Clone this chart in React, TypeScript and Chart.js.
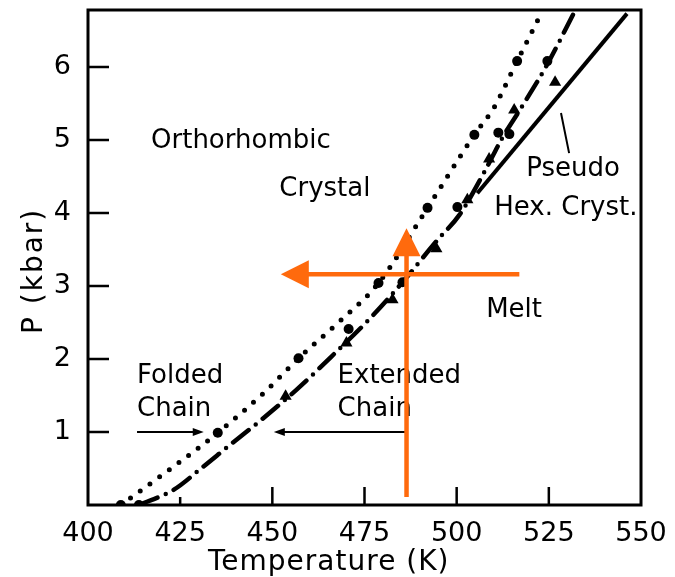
import React, { useEffect, useRef } from 'react';
import { Chart, registerables } from 'chart.js';
Chart.register(...registerables);

const FONT = '"DejaVu Sans", sans-serif';

// Axis ticks
const xTickValues = [400, 425, 450, 475, 500, 525, 550];
const yTickValues = [1, 2, 3, 4, 5, 6];

// Dotted boundary (folded chain / orthorhombic)
const dottedT = [408.9, 421.7, 435.2, 448.2, 457.1, 467.7, 478.8, 492.1, 504.8, 510.2, 516.4, 522.7];
const dottedP = [0, 0.47, 0.99, 1.56, 2.01, 2.49, 3.04, 4.07, 5.07, 5.45, 6.08, 6.71];
// Dotted boundary measured points (circles)
const dottedPtsT = [408.9, 435.2, 457.1, 478.8, 492.1, 504.8, 516.4];
const dottedPtsP = [0, 0.99, 2.01, 3.04, 4.07, 5.07, 6.08];

// Dash-dot boundary (extended chain)
const dashT = [413.8, 423.3, 430.9, 438.2, 446.6, 456.6, 467.4, 476.4, 485.3, 494.8, 500.7, 507.5, 512.4, 517.5, 524.3, 531.9];
const dashP = [0, 0.21, 0.51, 0.81, 1.15, 1.58, 2.10, 2.55, 3.05, 3.63, 3.97, 4.56, 5.03, 5.44, 6.01, 6.75];
// Dash-dot measured points (circles)
const dashPtsT = [413.8, 470.7, 485.3, 500.2, 511.3, 514.3, 524.6];
const dashPtsP = [0, 2.41, 3.05, 4.08, 5.10, 5.08, 6.08];
// Triangle points
const triT = [453.6, 470.1, 482.6, 494.5, 502.9, 508.8, 515.6, 526.7];
const triP = [1.49, 2.22, 2.81, 3.51, 4.18, 4.74, 5.41, 5.79];

// Solid boundary (pseudo hexagonal crystal / melt)
const solidT = [505.6, 546.2];
const solidP = [4.27, 6.73];

// Region labels (text, T, P) — left aligned, vertically centred
const labelText = ['Orthorhombic', 'Crystal', 'Pseudo', 'Hex. Cryst.', 'Melt', 'Folded', 'Chain', 'Extended', 'Chain'];
const labelT = [417.1, 451.9, 518.9, 510.2, 508.0, 413.3, 413.3, 467.7, 467.7];
const labelP = [4.98, 4.33, 4.60, 4.06, 2.67, 1.77, 1.31, 1.76, 1.31];

// Black arrows: [fromT, toT] at P
const foldedArrowT = [413.3, 431.4];
const extendedArrowT = [486.4, 450.4];
const arrowP = 1.0;
// Pointer line from "Pseudo" to the solid line
const pointerT = [528.3, 530.5];
const pointerP = [5.37, 4.82];

// Orange overlay arrows
const orangeVertT = 486.4;
const orangeVertP = [0.11, 3.79];
const orangeHorzP = 3.16;
const orangeHorzT = [517.0, 452.3];

const zip = (a: number[], b: number[]) => a.map((v, i) => ({ x: v, y: b[i] }));

function arrowHead(ctx: CanvasRenderingContext2D, tx: number, ty: number, dx: number, dy: number, len: number, half: number) {
  const bx = tx - dx * len;
  const by = ty - dy * len;
  ctx.beginPath();
  ctx.moveTo(tx, ty);
  ctx.lineTo(bx - dy * half, by + dx * half);
  ctx.lineTo(bx + dy * half, by - dx * half);
  ctx.closePath();
  ctx.fill();
}

const overlay = {
  id: 'overlay',
  afterDraw(chart: any) {
    const { ctx, chartArea: a, scales } = chart;
    const xs = scales.x;
    const ys = scales.y;
    const X = (v: number) => xs.getPixelForValue(v);
    const Y = (v: number) => ys.getPixelForValue(v);
    ctx.save();
    // frame
    ctx.strokeStyle = '#000';
    ctx.lineWidth = 3;
    ctx.strokeRect(a.left, a.top, a.right - a.left, a.bottom - a.top);
    // inward tick marks
    ctx.lineWidth = 2.5;
    ctx.beginPath();
    xTickValues.forEach((v, i) => {
      if (i === 0 || i === xTickValues.length - 1) return;
      const px = X(v);
      ctx.moveTo(px, a.bottom);
      ctx.lineTo(px, a.bottom - (i === 1 ? 8 : 18));
    });
    yTickValues.forEach((v) => {
      const py = Y(v);
      ctx.moveTo(a.left, py);
      ctx.lineTo(a.left + 21, py);
    });
    ctx.stroke();

    // region labels
    ctx.fillStyle = '#000';
    ctx.font = `26px ${FONT}`;
    ctx.textAlign = 'left';
    ctx.textBaseline = 'middle';
    labelText.forEach((t, i) => ctx.fillText(t, X(labelT[i]), Y(labelP[i])));

    // black arrows
    ctx.lineWidth = 2;
    ctx.beginPath();
    ctx.moveTo(X(foldedArrowT[0]), Y(arrowP));
    ctx.lineTo(X(foldedArrowT[1]) - 6, Y(arrowP));
    ctx.moveTo(X(extendedArrowT[0]), Y(arrowP));
    ctx.lineTo(X(extendedArrowT[1]) + 6, Y(arrowP));
    ctx.moveTo(X(pointerT[0]), Y(pointerP[0]));
    ctx.lineTo(X(pointerT[1]), Y(pointerP[1]));
    ctx.stroke();
    arrowHead(ctx, X(foldedArrowT[1]), Y(arrowP), 1, 0, 11, 4);
    arrowHead(ctx, X(extendedArrowT[1]), Y(arrowP), -1, 0, 11, 4);

    // axis titles
    ctx.font = `28px ${FONT}`;
    (ctx as any).letterSpacing = '1px';
    ctx.textBaseline = 'alphabetic';
    ctx.textAlign = 'left';
    ctx.fillText('Temperature (K)', 208, 570);
    ctx.save();
    (ctx as any).letterSpacing = '2px';
    ctx.translate(42, 334);
    ctx.rotate(-Math.PI / 2);
    ctx.fillText('P (kbar)', 0, 0);
    ctx.restore();
    (ctx as any).letterSpacing = '0px';

    // orange overlay arrows
    const orange = '#ff6a0d';
    ctx.strokeStyle = orange;
    ctx.fillStyle = orange;
    ctx.lineWidth = 4.5;
    ctx.lineCap = 'butt';
    const vx = X(orangeVertT);
    const vy0 = Y(orangeVertP[0]);
    const vy1 = Y(orangeVertP[1]);
    ctx.beginPath();
    ctx.moveTo(vx, vy0);
    ctx.lineTo(vx, vy1 + 20);
    const hy = Y(orangeHorzP);
    const hx0 = X(orangeHorzT[0]);
    const hx1 = X(orangeHorzT[1]);
    ctx.moveTo(hx0, hy);
    ctx.lineTo(hx1 + 20, hy);
    ctx.stroke();
    arrowHead(ctx, vx, vy1, 0, -1, 28, 14);
    arrowHead(ctx, hx1, hy, -1, 0, 28, 14);
    ctx.restore();
  },
};

export default function App() {
  const ref = useRef<HTMLCanvasElement>(null);
  useEffect(() => {
    document.body.style.margin = '0';
    const chart = new Chart(ref.current as HTMLCanvasElement, {
      type: 'line',
      data: {
        datasets: [
          {
            data: zip(dottedT, dottedP),
            borderColor: '#000',
            borderWidth: 5,
            borderDash: [0, 12],
            borderCapStyle: 'round',
            pointRadius: 0,
            cubicInterpolationMode: 'monotone',
            fill: false,
          },
          {
            data: zip(dashT, dashP),
            borderColor: '#000',
            borderWidth: 4.5,
            borderDash: [20, 9, 0, 9],
            borderCapStyle: 'round',
            pointRadius: 0,
            cubicInterpolationMode: 'monotone',
            fill: false,
          },
          {
            data: zip(solidT, solidP),
            borderColor: '#000',
            borderWidth: 4,
            pointRadius: 0,
            fill: false,
          },
          {
            data: zip(dottedPtsT, dottedPtsP),
            showLine: false,
            pointStyle: 'circle',
            pointRadius: 5,
            pointBackgroundColor: '#000',
            pointBorderColor: '#000',
            pointBorderWidth: 0,
          },
          {
            data: zip(dashPtsT, dashPtsP),
            showLine: false,
            pointStyle: 'circle',
            pointRadius: 5,
            pointBackgroundColor: '#000',
            pointBorderColor: '#000',
            pointBorderWidth: 0,
          },
          {
            data: zip(triT, triP),
            showLine: false,
            pointStyle: 'triangle',
            pointRadius: 7,
            pointBackgroundColor: '#000',
            pointBorderColor: '#000',
            pointBorderWidth: 0,
          },
        ],
      } as any,
      options: {
        animation: false,
        responsive: false,
        events: [],
        layout: { padding: { top: 10, right: 34, left: 0, bottom: 0 } },
        plugins: { legend: { display: false }, tooltip: { enabled: false }, title: { display: false } },
        scales: {
          x: {
            type: 'linear',
            min: 400,
            max: 550,
            grid: { display: false },
            border: { display: false },
            ticks: {
              stepSize: 25,
              autoSkip: false,
              maxRotation: 0,
              padding: 5,
              color: '#000',
              font: { family: FONT, size: 27 },
              callback: (v: any) => String(v),
            },
            afterFit: (s: any) => { s.height = 72; s.paddingLeft = 0; s.paddingRight = 0; },
          },
          y: {
            type: 'linear',
            min: 0,
            max: 6.78,
            grid: { display: false },
            border: { display: false },
            ticks: {
              stepSize: 1,
              includeBounds: false,
              padding: 9,
              color: '#000',
              font: { family: FONT, size: 27 },
              callback: (v: any) => (v === 0 ? '' : String(v)),
            },
            afterFit: (s: any) => { s.width = 88; s.paddingTop = 0; s.paddingBottom = 0; },
          },
        },
      } as any,
      plugins: [overlay],
    });
    return () => chart.destroy();
  }, []);
  return (
    <div style={{ width: 675, height: 577 }}>
      <canvas ref={ref} width={675} height={577} style={{ display: 'block' }} />
    </div>
  );
}
